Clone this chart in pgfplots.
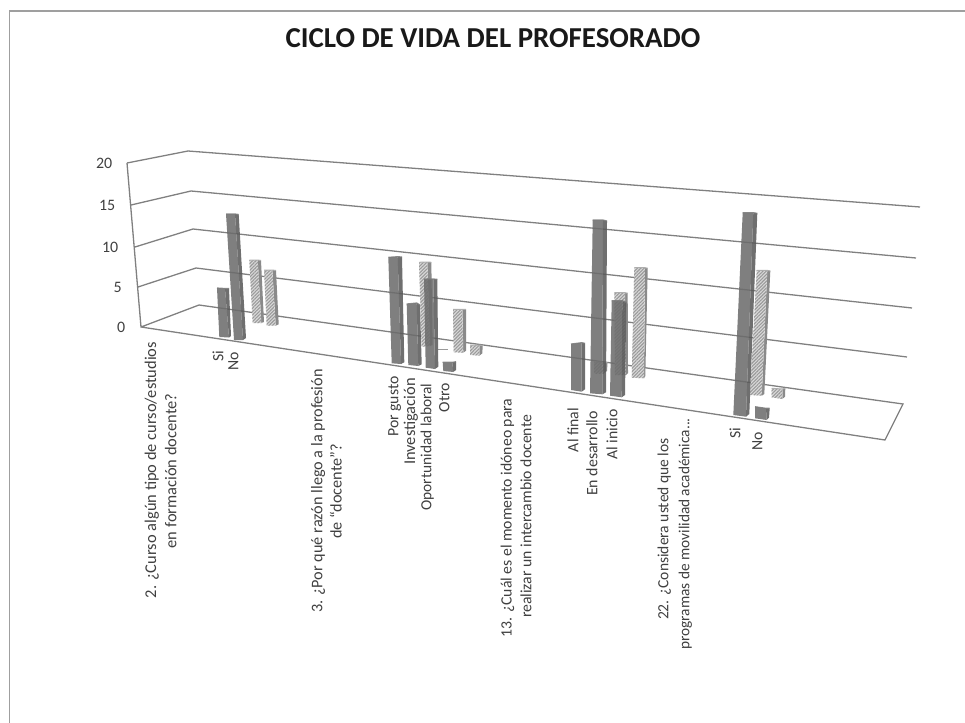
\documentclass[border=0pt]{standalone}
\usepackage{fontspec}
\setmainfont{Carlito}
\usepackage{pgfplots}
\pgfplotsset{compat=1.18}
\usetikzlibrary{patterns.meta}
\definecolor{fr}{HTML}{6C6C6C}
\definecolor{sd}{HTML}{5A5A5A}
\definecolor{tp}{HTML}{7C7C7C}
\definecolor{gr}{HTML}{808080}
\definecolor{tx}{HTML}{404040}
\definecolor{hb}{HTML}{DADADA}
\definecolor{hl}{HTML}{9A9A9A}
\definecolor{hs}{HTML}{8A8A8A}
% #1 TL #2 TR #3 side top #4 side bottom #5 BR #6 BL
\newcommand\darkbar[6]{%
 \addplot[draw=none,fill=sd,fill opacity=.87] coordinates {#2 #3 #4 #5} --cycle;
 \addplot[draw=none,fill=fr,fill opacity=.87] coordinates {#1 #2 #5 #6} --cycle;
 \addplot[tp,line width=1.2pt,opacity=.87] coordinates {#1 #2 #3};
}
\newcommand\hatchbar[6]{%
 \addplot[draw=none,fill=hs] coordinates {#2 #3 #4 #5} --cycle;
 \addplot[draw=none,fill=hb,postaction={pattern={Lines[angle=45,distance=2.4pt,line width=1.1pt]},pattern color=hl}] coordinates {#1 #2 #5 #6} --cycle;
 \addplot[hl!80,line width=1pt] coordinates {#1 #2 #3};
}
\newcommand\lab[4][15.8]{\node[rotate=90,text=tx,inner sep=0pt,font=\fontsize{#1}{17}\selectfont] at (axis cs:#2,#3) {\strut #4};}
\newcommand\tick[3]{\node[anchor=east,text=tx,inner sep=0pt,font=\fontsize{16}{17}\selectfont] at (axis cs:#1,#2) {#3};}
\begin{document}
\begin{tikzpicture}
\useasboundingbox (0,0) rectangle (965bp,723bp);
\begin{axis}[at={(0,0)},anchor=south west,hide axis,scale only axis,width=965bp,height=723bp,xmin=0,xmax=965,ymin=0,ymax=723,y dir=reverse,enlargelimits=false,clip=false]
% page frame
\addplot[color=gray!75,line width=1.3pt] coordinates {(9.5,723) (9.5,11) (965,11)};
% walls and gridlines
\addplot[gr,line width=1.3pt] coordinates {(127,163) (141,327) (885,440) (903,404) (199,305) (141,327)};
\addplot[gr,line width=1.3pt] coordinates {(127,163) (188,151) (920,207)};
\addplot[gr,line width=1.3pt] coordinates {(131,205) (191,191) (916,258)};
\addplot[gr,line width=1.3pt] coordinates {(135,247) (193,229) (912,308)};
\addplot[gr,line width=1.3pt] coordinates {(138,287) (196,268) (907,357)};
% back series
\hatchbar{(249.3,260)}{(257.7,260)}{(261,260.5)}{(264,322)}{(261.3,323)}{(252.7,323)}
\hatchbar{(264,270)}{(272.3,270)}{(276,270.5)}{(278.7,324.3)}{(275.7,325.7)}{(266.7,325.7)}
\hatchbar{(419,262.3)}{(427.3,262)}{(431.3,262.3)}{(432.7,345)}{(430,346)}{(421.7,346.7)}
\addplot[hl,line width=1pt] coordinates {(438,349.5) (448,349.5)};
\hatchbar{(453,309.3)}{(462.3,309.3)}{(466,309.5)}{(466,350.7)}{(463.3,352.7)}{(453.7,352.3)}
\hatchbar{(470,345)}{(479.3,345)}{(482.7,345.7)}{(482.3,353.3)}{(479.3,355.7)}{(470,355)}
\hatchbar{(594,362)}{(604,362)}{(607.5,363)}{(607,371)}{(604,373)}{(594,373)}
\hatchbar{(614.3,292.7)}{(625,292.7)}{(627.7,293.3)}{(628,373)}{(626,375)}{(615,375)}
\hatchbar{(634.3,267.7)}{(645,267.7)}{(647.7,268.3)}{(645.3,376)}{(644,378.3)}{(631.7,377.7)}
\hatchbar{(756.7,270.3)}{(767.3,270.3)}{(770.3,271)}{(764.3,394)}{(761.7,395.7)}{(750,395)}
\hatchbar{(771.7,388.3)}{(782.3,389)}{(785.3,388.3)}{(785,396.7)}{(782.3,399)}{(771.7,397.3)}
% front series
\darkbar{(217,288)}{(225,288.5)}{(229,288.5)}{(231,336)}{(229,337.5)}{(219.3,337)}
\darkbar{(226,214)}{(235,214)}{(238.7,214.5)}{(246,338)}{(243,340)}{(234,340)}
\darkbar{(388.3,257.3)}{(397.7,256.7)}{(402,257)}{(404.3,362.3)}{(401,364)}{(391.7,363.3)}
\darkbar{(406.7,304)}{(416.7,303)}{(420,305)}{(421.7,364.3)}{(418.3,366)}{(408.3,365)}
\darkbar{(424,279)}{(433.3,279)}{(437.3,279.3)}{(438.3,366.7)}{(435,369)}{(425.7,367.7)}
\darkbar{(442.7,362.3)}{(452.3,362.3)}{(456,361.7)}{(456,370)}{(453.3,372)}{(443.3,371)}
\darkbar{(571,344)}{(581.7,342.7)}{(585,343.3)}{(585,389.3)}{(581.7,391.7)}{(571,390)}
\darkbar{(592.7,220)}{(603,220)}{(607,221)}{(606,392.3)}{(602.3,394.3)}{(590,393.3)}
\darkbar{(611.7,300.7)}{(622.3,300.7)}{(626.3,302.3)}{(625,395)}{(621.7,397.3)}{(610,395.7)}
\darkbar{(742.7,212.7)}{(753.3,212.7)}{(757.3,213.3)}{(749.3,414)}{(746,416.7)}{(733.3,415)}
\darkbar{(755,406.7)}{(766,408.3)}{(769.7,408.3)}{(769,417.7)}{(766.7,420)}{(755,418.3)}
% value axis
\tick{112.5}{163}{20}
\tick{115.5}{205.5}{15}
\tick{118.5}{247}{10}
\tick{122}{287.5}{5}
\tick{125.5}{327}{0}
% category labels
\lab[16.5]{152.7}{470}{2. ¿Curso algún tipo de curso/estudios}
\lab[16.5]{173}{471}{en formación docente?}
\lab{220}{356}{Si}
\lab{235}{361.5}{No}
\lab[16.3]{319}{491}{3. ¿Por qué razón llego a la profesión}
\lab[16.3]{338.3}{491.5}{de “docente”?}
\lab{395}{406.5}{Por gusto}
\lab[16.5]{411.7}{421.5}{Investigación}
\lab[15.5]{428}{447}{Oportunidad laboral}
\lab{446}{397.5}{Otro}
\lab[15.8]{508.3}{518}{13. ¿Cuál es el momento idóneo para}
\lab[15.8]{528}{516.5}{realizar un intercambio docente}
\lab{575}{430}{Al final}
\lab[16]{594}{453.5}{En desarrollo}
\lab{614}{434.5}{Al inicio}
\lab[15.6]{665}{529}{22. ¿Considera usted que los}
\lab[15.4]{686}{534}{programas de movilidad académica...}
\lab{737}{433.5}{Si}
\lab{759}{441}{No}
\node[font=\fontsize{29}{32}\bfseries\selectfont,text=black!90,inner sep=0pt] at (axis cs:493,38.5) {CICLO DE VIDA DEL PROFESORADO};
\end{axis}
\end{tikzpicture}
\end{document}
